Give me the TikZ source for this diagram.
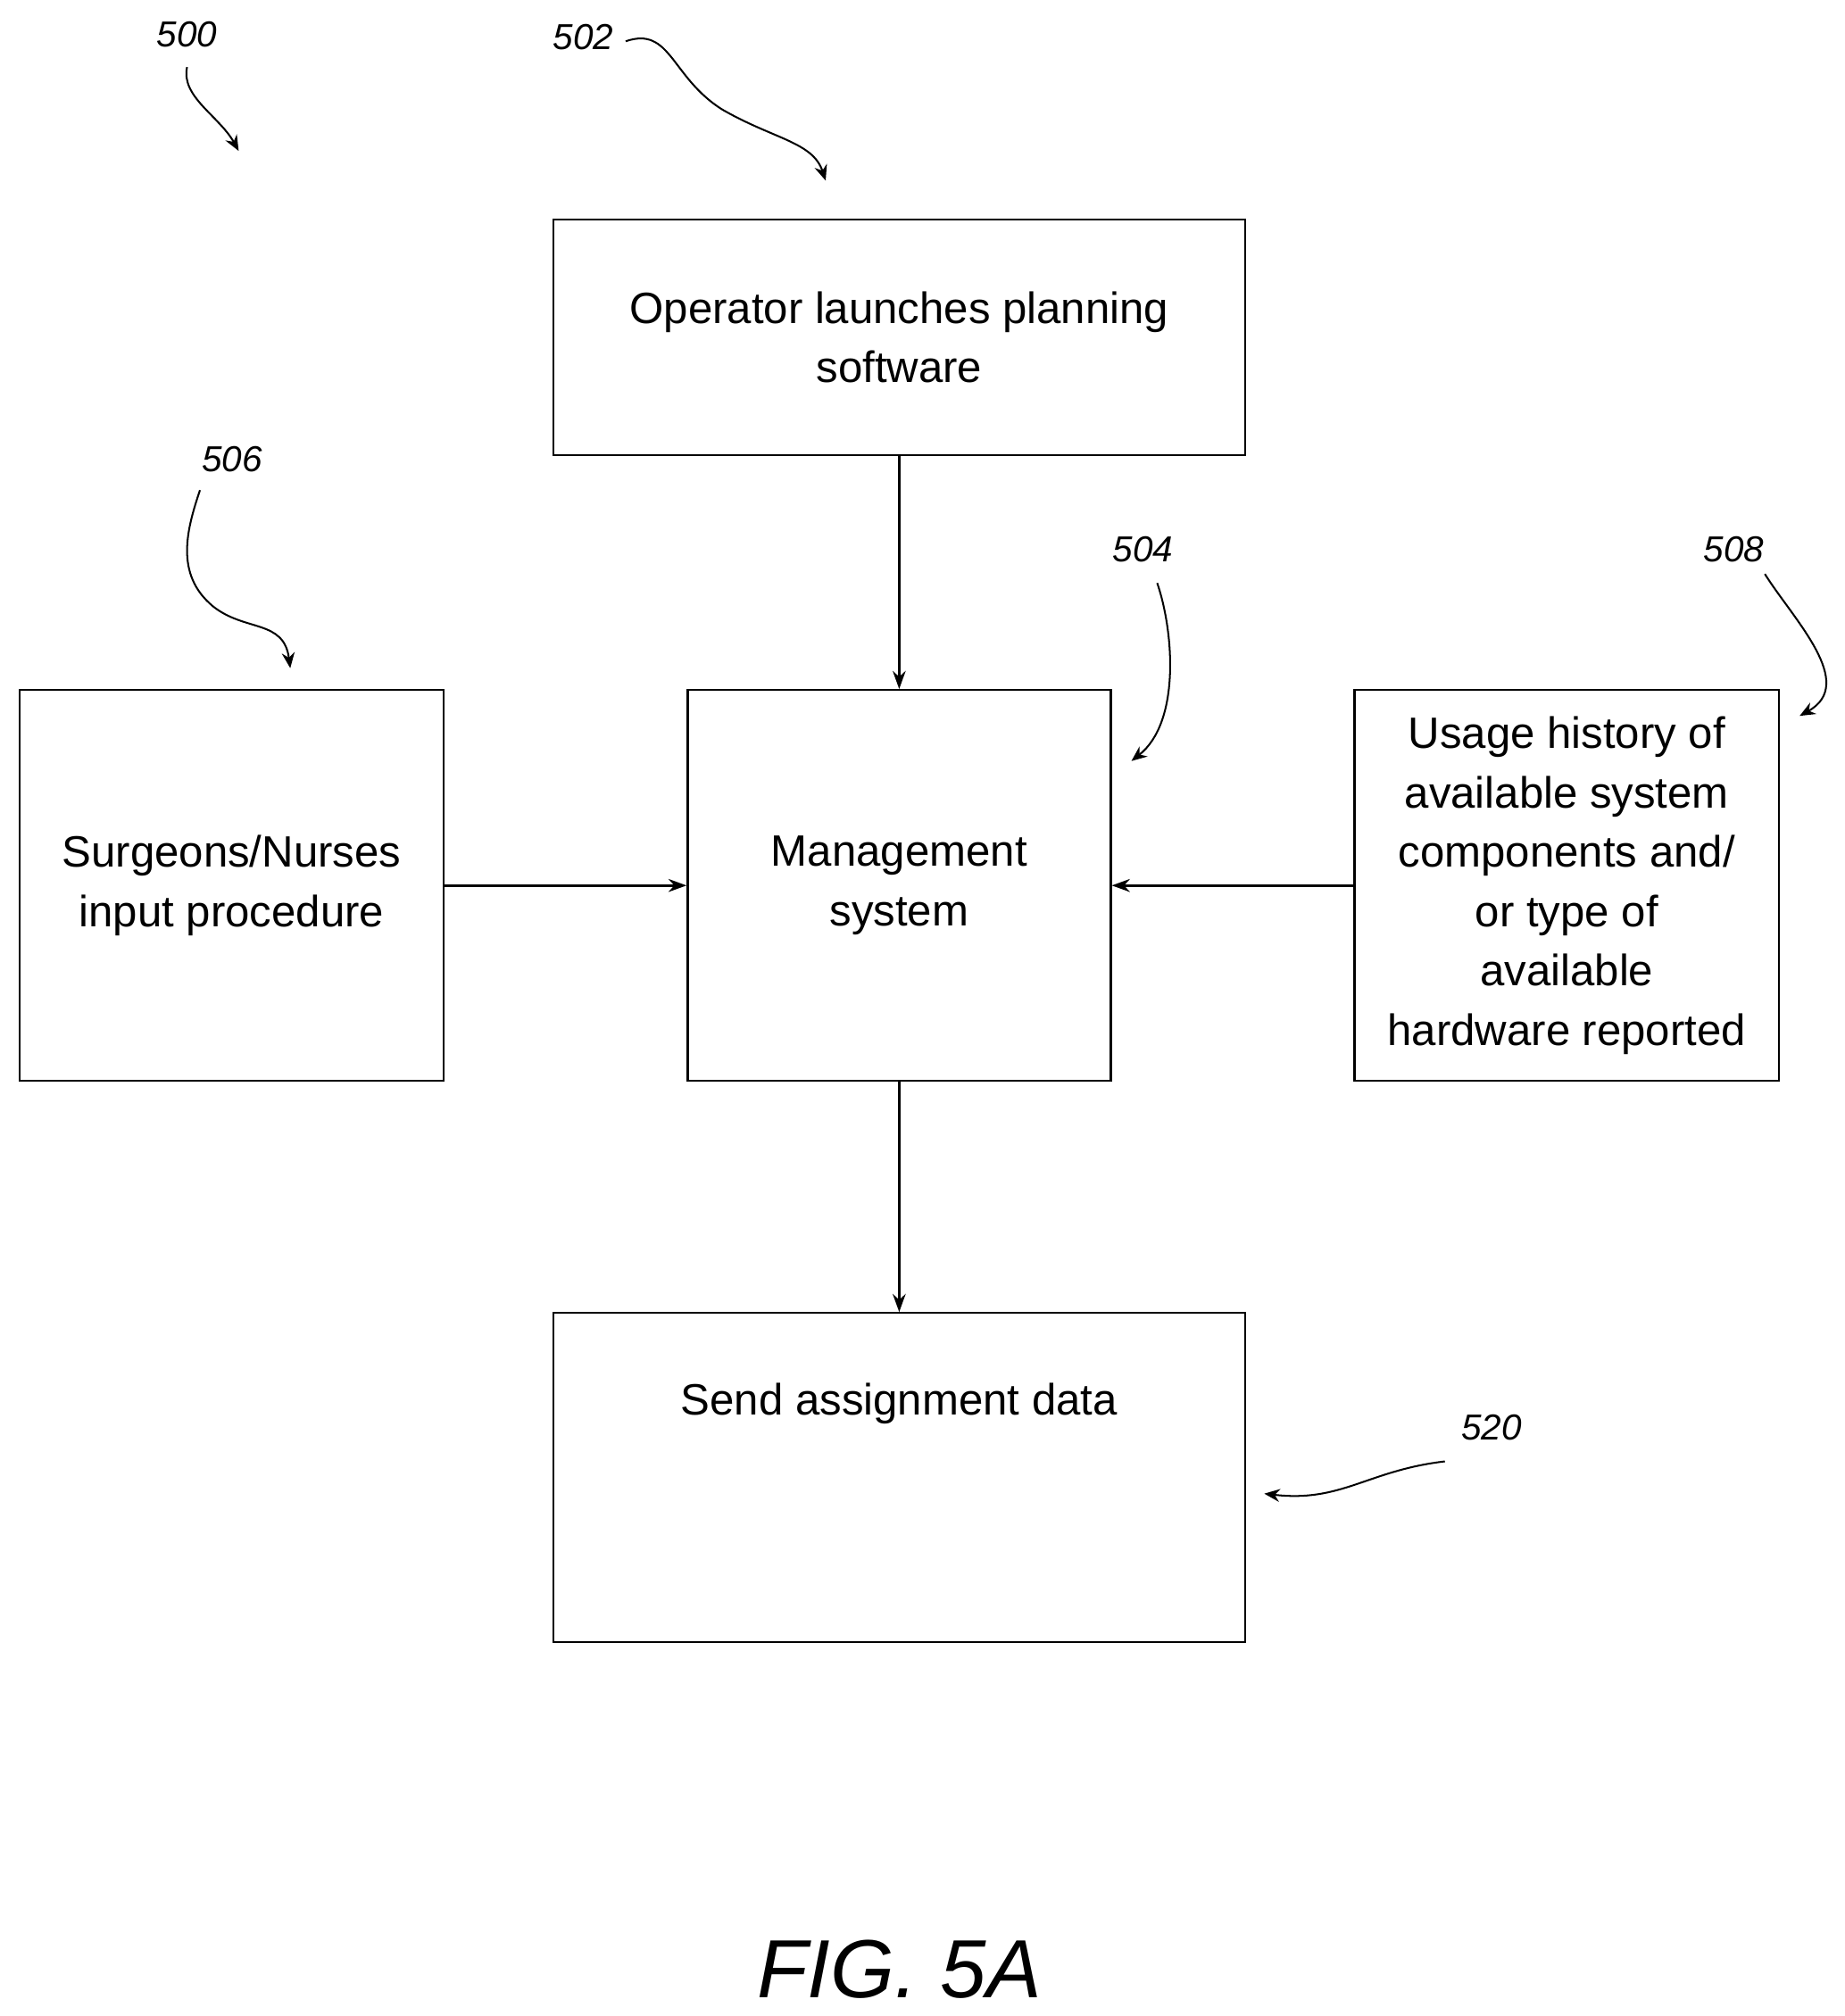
\documentclass[tikz,border=0pt]{standalone}
\usepackage{fontspec}
\setmainfont{Liberation Sans}
\usetikzlibrary{arrows.meta}
\begin{document}
\begin{tikzpicture}[x=0.5pt,y=-0.5pt,
 box/.style={draw,line width=0.8pt,align=center,font=\fontsize{17}{23}\selectfont,inner sep=0pt},
 arr/.style={line width=1pt,-{Stealth[length=7pt,width=5pt]}},
 lab/.style={font=\fontsize{14}{16}\selectfont\itshape},
 lead/.style={line width=0.7pt,-{Stealth[length=6pt,width=5pt]}}]
\useasboundingbox (0,0) rectangle (1430,1563);
\node[box,minimum width=268pt,minimum height=91.5pt] (op) at (697,261.5) {Operator launches planning\\software};
\node[box,minimum width=164pt,minimum height=151.5pt] (mg) at (697,686.5) {Management\\system};
\node[box,minimum width=164.5pt,minimum height=151.5pt] (sn) at (179.5,686.5) {Surgeons/Nurses\\input procedure};
\node[box,minimum width=164.5pt,minimum height=151.5pt] (us) at (1214.5,686.5) {Usage history of\\available system\\components and/\\or type of\\available\\hardware reported};
\node[box,minimum width=268pt,minimum height=127.5pt] (sd) at (697,1145.5) {Send assignment data\\[38pt]\mbox{}};
\draw[arr] (op) -- (mg);
\draw[arr] (sn.east) -- (mg.west);
\draw[arr] (us.west) -- (mg.east);
\draw[arr] (mg) -- (sd);
\node[lab] (l500) at (145,27) {500};
\node[lab] (l502) at (452,29) {502};
\node[lab] (l506) at (180,356) {506};
\node[lab] (l504) at (886,426) {504};
\node[lab] (l508) at (1344,426) {508};
\node[lab] (l520) at (1156,1107) {520};
\coordinate (e500) at (185,117);
\coordinate (e502) at (640,140);
\coordinate (e506) at (225,518);
\coordinate (e504) at (877,590);
\coordinate (e508) at (1395,555);
\coordinate (e520) at (980,1158);
\draw[lead] (145,52) .. controls (140,75) and (170,90) .. (e500);
\draw[lead] (485,32) .. controls (520,20) and (520,60) .. (560,85) .. controls (600,108) and (630,110) .. (e502);
\draw[lead] (155,380) .. controls (145,410) and (135,445) .. (165,470) .. controls (190,490) and (220,480) .. (e506);
\draw[lead] (897,452) .. controls (910,490) and (915,560) .. (e504);
\draw[lead] (1368,445) .. controls (1390,480) and (1440,530) .. (e508);
\draw[lead] (1120,1133) .. controls (1060,1140) and (1040,1165) .. (e520);
\node[font=\fontsize{32}{36}\selectfont\itshape] (fig) at (697,1527) {FIG. 5A};
\end{tikzpicture}
\end{document}
